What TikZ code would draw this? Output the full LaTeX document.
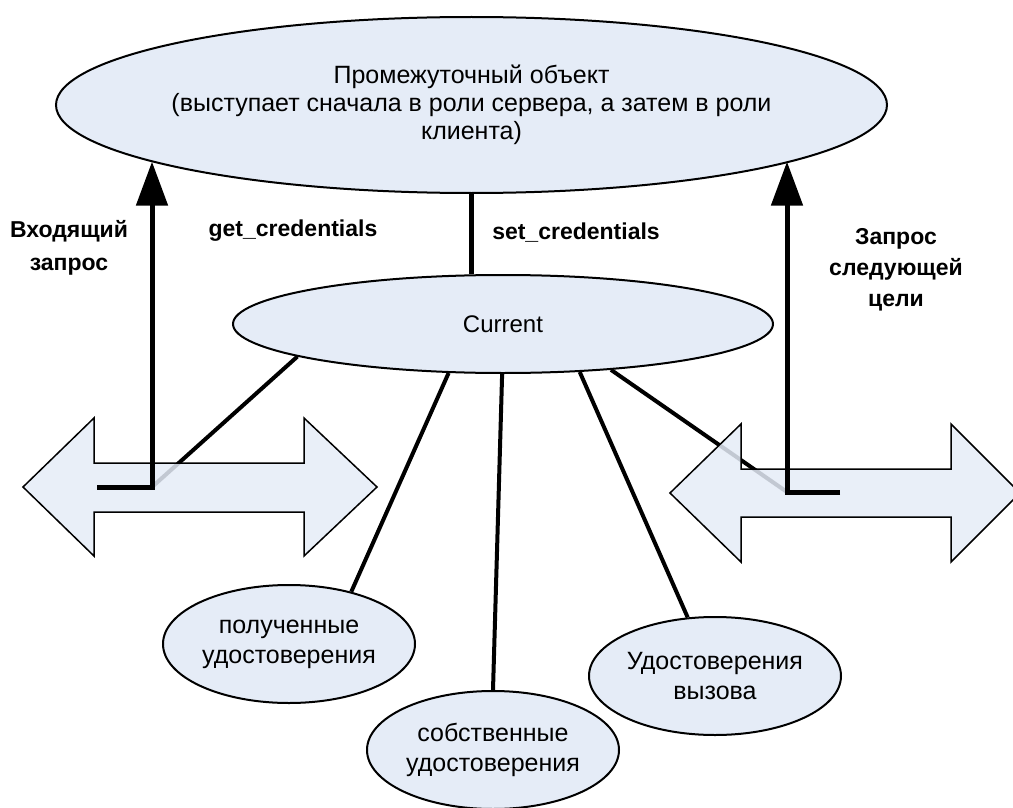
\documentclass[tikz,border=0pt]{standalone}
\usepackage{fontspec}
\setmainfont{Liberation Sans}
\usetikzlibrary{shapes.geometric,arrows.meta}
\definecolor{pale}{RGB}{229,236,247}
\begin{document}
\begin{tikzpicture}[x=1pt,y=-1pt,
  ell/.style={ellipse, draw=black, line width=2pt, fill=pale, inner xsep=-12pt, inner ysep=0pt, align=center, font=\fontsize{25}{28}\selectfont},
  small/.style={ell, minimum width=252pt, minimum height=118pt, font=\fontsize{25}{30}\selectfont},
  link/.style={line width=4pt},
  upar/.style={line width=5pt, line join=miter, -{Triangle[width=31pt,length=44pt]}},
  dbl/.style={draw=black, line width=1.5pt, fill=pale, fill opacity=0.85},
  lbl/.style={font=\fontsize{23}{33}\selectfont\bfseries, align=center, inner sep=0pt}]
\useasboundingbox (0,0) rectangle (1013,808);
% nodes
\node[ell, minimum width=831pt, minimum height=176pt] (top) at (471.5,105)
  {Промежуточный объект\\(выступает сначала в роли сервера, а затем в роли\\клиента)};
\node[ell, minimum width=540pt, minimum height=98pt, font=\fontsize{24}{28}\selectfont] (cur) at (503,324) {Current};
\node[small] (rcv) at (289,644) {полученные\\удостоверения};
\node[small] (own) at (493,750) {собственные\\удостоверения};
\node[small] (call) at (715,676) {Удостоверения\\вызова};
% feet of the vertical arrows
\coordinate (lstub) at (97,487);
\coordinate (lfoot) at (152,487);
\coordinate (rfoot) at (787,492);
\coordinate (rstub) at (840,492);
% connectors running under the double arrows
\draw[link] (cur.189) -- (lfoot);
\draw[link] (cur.337) -- (rfoot);
% double arrows
\path[dbl] (23,487) -- (94,418) -- (94,463) -- (304,463) -- (304,418) -- (377,487)
  -- (304,556) -- (304,512) -- (94,512) -- (94,556) -- cycle;
\path[dbl] (670,493) -- (741,424) -- (741,469) -- (951,469) -- (951,424) -- (1020,493)
  -- (951,562) -- (951,517) -- (741,517) -- (741,562) -- cycle;
% other connectors
\draw[line width=4.5pt] (top.south) -- (top.south |- cur.north);
\draw[link] (cur.222) -- (rcv.40);
\draw[link] (cur.269) -- (own.north);
\draw[link] (cur.328) -- (call.115);
% vertical arrows
\draw[upar] (lstub) -- (lfoot) -- (lfoot |- top.190);
\draw[upar] (rstub) -- (rfoot) -- (rfoot |- top.350);
% labels
\node[lbl] (inq) at (69,248) {Входящий\\запрос};
\node[lbl] (getc) at (293,231) {get\_credentials};
\node[lbl] (setc) at (576,233) {set\_credentials};
\node[lbl, font=\fontsize{23}{31}\selectfont\bfseries] (nxt) at (896,270) {Запрос\\следующей\\цели};
\end{tikzpicture}
\end{document}
